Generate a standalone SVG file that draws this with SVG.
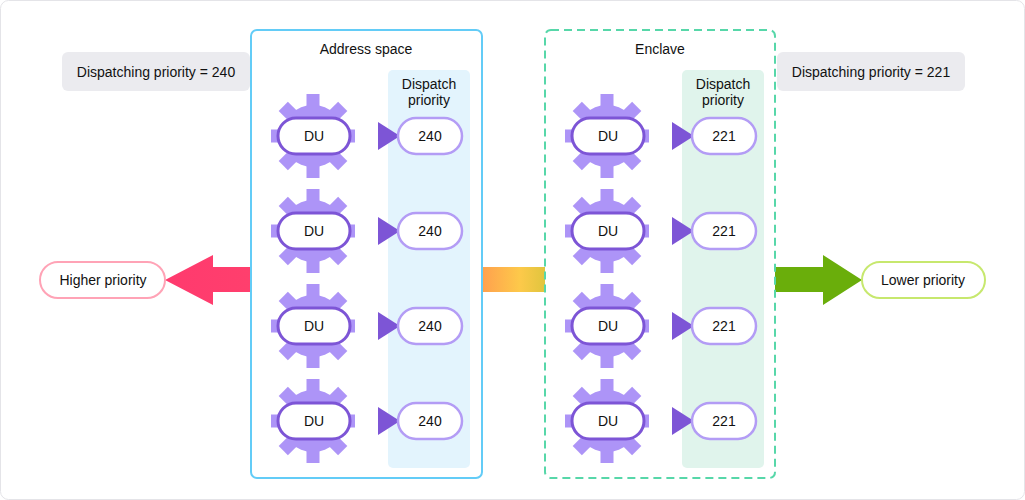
<svg xmlns="http://www.w3.org/2000/svg" xmlns:xlink="http://www.w3.org/1999/xlink" width="1025" height="500" viewBox="0 0 1025 500">
<defs>
<style>
text{font-family:"Liberation Sans",Arial,sans-serif;font-size:14px;fill:#111;text-anchor:middle;dominant-baseline:central}
.du{fill:#fff;stroke:#7d55d6;stroke-width:3}
.val{fill:#fff;stroke:#b39cf5;stroke-width:2.5}
.tri{fill:#7d55d6}
.gearc{fill:#ad94f7}
</style>
<linearGradient id="lg" x1="0" x2="1"><stop offset="0" stop-color="#ff3a6e"/><stop offset="1" stop-color="#ff3f6d"/></linearGradient>
<linearGradient id="og" x1="0" x2="1"><stop offset="0" stop-color="#ffa04e"/><stop offset="0.6" stop-color="#fdc94a"/><stop offset="1" stop-color="#e0c53e"/></linearGradient>
<g id="gear">
<circle class="gearc" r="31"/>
<g class="gearc">
<rect x="-6.5" y="-42" width="13" height="84"/>
<rect x="-6.5" y="-42" width="13" height="84" transform="rotate(45)"/>
<rect x="-6.5" y="-42" width="13" height="84" transform="rotate(90)"/>
<rect x="-6.5" y="-42" width="13" height="84" transform="rotate(135)"/>
</g>
</g>
</defs>
<rect x="0.5" y="0.5" width="1024" height="499" rx="8" fill="#fff" stroke="#e4e4e8"/>
<g id="labels">
<rect x="62" y="52" width="188" height="39" rx="6" fill="#ebebef"/>
<text x="156" y="72">Dispatching priority = 240</text>
<rect x="777" y="52" width="188" height="39" rx="6" fill="#ebebef"/>
<text x="871" y="72">Dispatching priority = 221</text>
</g>
<g id="connectors">
<rect x="482" y="267" width="63" height="25" fill="url(#og)"/>
<polygon points="250,267 213,267 213,255 165,280 213,305 213,292 250,292" fill="url(#lg)"/>
<polygon points="775,267 823,267 823,255 862,280 823,305 823,292 775,292" fill="#6aae0b"/>
</g>
<g id="higher"><rect x="40" y="262" width="125" height="36" rx="18" fill="#fff" stroke="#ffa3b6" stroke-width="2"/><text x="103" y="280">Higher priority</text></g>
<g id="lower"><rect x="862" y="262" width="123" height="36" rx="18" fill="#fff" stroke="#c7e86e" stroke-width="2"/><text x="923" y="280">Lower priority</text></g>
<g id="addressspace">
<rect x="251" y="30" width="231" height="448" rx="6" fill="#fff" stroke="#63ccf7" stroke-width="2"/>
<rect x="388" y="70" width="82" height="398" rx="5" fill="#e3f4fd"/>
<text x="366" y="49">Address space</text>
<text x="429" y="84">Dispatch</text><text x="429" y="100">priority</text>
</g>
<g id="enclave">
<rect x="545" y="30" width="230" height="448" rx="6" fill="#fff" stroke="#57d7a9" stroke-width="2" stroke-dasharray="8,5"/>
<rect x="682" y="70" width="82" height="398" rx="5" fill="#e0f4ec"/>
<text x="660" y="49">Enclave</text>
<text x="723" y="84">Dispatch</text><text x="723" y="100">priority</text>
</g>
<g id="rows-left">
<g id="l1"><use xlink:href="#gear" x="313" y="136"/><rect class="du" x="278" y="118" width="72" height="36" rx="18"/><text x="314" y="136">DU</text><polygon class="tri" points="378,122 400,136 378,150"/><rect class="val" x="398" y="118" width="64" height="36" rx="18"/><text x="430" y="136">240</text></g>
<g id="l2"><use xlink:href="#gear" x="313" y="231"/><rect class="du" x="278" y="213" width="72" height="36" rx="18"/><text x="314" y="231">DU</text><polygon class="tri" points="378,217 400,231 378,245"/><rect class="val" x="398" y="213" width="64" height="36" rx="18"/><text x="430" y="231">240</text></g>
<g id="l3"><use xlink:href="#gear" x="313" y="326"/><rect class="du" x="278" y="308" width="72" height="36" rx="18"/><text x="314" y="326">DU</text><polygon class="tri" points="378,312 400,326 378,340"/><rect class="val" x="398" y="308" width="64" height="36" rx="18"/><text x="430" y="326">240</text></g>
<g id="l4"><use xlink:href="#gear" x="313" y="421"/><rect class="du" x="278" y="403" width="72" height="36" rx="18"/><text x="314" y="421">DU</text><polygon class="tri" points="378,407 400,421 378,435"/><rect class="val" x="398" y="403" width="64" height="36" rx="18"/><text x="430" y="421">240</text></g>
</g>
<g id="rows-right">
<g id="r1"><use xlink:href="#gear" x="607" y="136"/><rect class="du" x="572" y="118" width="72" height="36" rx="18"/><text x="608" y="136">DU</text><polygon class="tri" points="672,122 694,136 672,150"/><rect class="val" x="692" y="118" width="64" height="36" rx="18"/><text x="724" y="136">221</text></g>
<g id="r2"><use xlink:href="#gear" x="607" y="231"/><rect class="du" x="572" y="213" width="72" height="36" rx="18"/><text x="608" y="231">DU</text><polygon class="tri" points="672,217 694,231 672,245"/><rect class="val" x="692" y="213" width="64" height="36" rx="18"/><text x="724" y="231">221</text></g>
<g id="r3"><use xlink:href="#gear" x="607" y="326"/><rect class="du" x="572" y="308" width="72" height="36" rx="18"/><text x="608" y="326">DU</text><polygon class="tri" points="672,312 694,326 672,340"/><rect class="val" x="692" y="308" width="64" height="36" rx="18"/><text x="724" y="326">221</text></g>
<g id="r4"><use xlink:href="#gear" x="607" y="421"/><rect class="du" x="572" y="403" width="72" height="36" rx="18"/><text x="608" y="421">DU</text><polygon class="tri" points="672,407 694,421 672,435"/><rect class="val" x="692" y="403" width="64" height="36" rx="18"/><text x="724" y="421">221</text></g>
</g>
</svg>
